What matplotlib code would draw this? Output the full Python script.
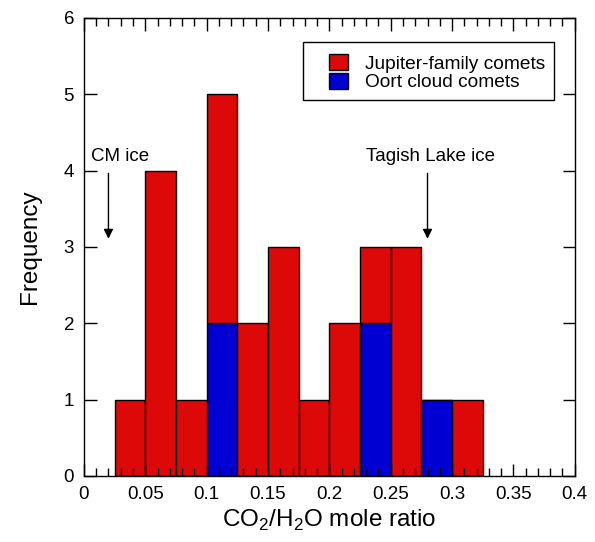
import numpy as np
import matplotlib
matplotlib.use("Agg")
import matplotlib.pyplot as plt
from matplotlib.patches import Rectangle
from matplotlib.ticker import MultipleLocator

plt.rcParams["font.family"] = ["Liberation Sans", "DejaVu Sans"]
plt.rcParams["mathtext.fontset"] = "custom"
plt.rcParams["mathtext.rm"] = "Liberation Sans"

# CO2/H2O bins (left edges, width 0.025) and counts per population
bin_left = [0.025, 0.05, 0.075, 0.1, 0.125, 0.15, 0.175, 0.2, 0.225, 0.25, 0.275, 0.3]
bin_width = 0.025
jfc_counts = [1, 4, 1, 3, 2, 3, 1, 2, 1, 3, 0, 1]
oort_counts = [0, 0, 0, 2, 0, 0, 0, 0, 2, 0, 1, 0]

RED = "#dd0808"
BLUE = "#0000d2"

fig = plt.figure(figsize=(5.95, 5.42), dpi=100)
ax = fig.add_axes([0.141, 0.122, 0.825, 0.845])

ax.bar(bin_left, oort_counts, width=bin_width, align="edge",
       color=BLUE, edgecolor="black", linewidth=1, label="Oort cloud comets")
ax.bar(bin_left, jfc_counts, width=bin_width, align="edge", bottom=oort_counts,
       color=RED, edgecolor="black", linewidth=1, label="Jupiter-family comets")

# ice reference markers
ax.annotate("", xy=(0.02, 3.07), xytext=(0.02, 4.0),
            arrowprops=dict(arrowstyle="-|>", color="black", lw=1, mutation_scale=14))
ax.text(0.0297, 4.18, "CM ice", ha="center", va="center", fontsize=13.5)
ax.annotate("", xy=(0.28, 3.07), xytext=(0.28, 4.0),
            arrowprops=dict(arrowstyle="-|>", color="black", lw=1, mutation_scale=14))
ax.text(0.2823, 4.18, "Tagish Lake ice", ha="center", va="center", fontsize=13.5)

ax.set_xlim(0, 0.4)
ax.set_ylim(0, 6)
ax.xaxis.set_minor_locator(MultipleLocator(0.01))
ax.yaxis.set_major_locator(MultipleLocator(1))
ax.set_xticks(np.arange(0, 0.401, 0.05))
ax.set_xticklabels(["0", "0.05", "0.1", "0.15", "0.2", "0.25", "0.3", "0.35", "0.4"])
ax.tick_params(which="both", direction="in", top=True, right=True, labelsize=13.5)
ax.tick_params(which="major", length=9, width=1, pad=7)
ax.tick_params(which="minor", length=6, width=1)
for s in ax.spines.values():
    s.set_linewidth(1)

ax.set_xlabel("CO$_\\mathregular{2}$/H$_\\mathregular{2}$O mole ratio", fontsize=17.5, labelpad=4)
ax.set_ylabel("Frequency", fontsize=17.5, labelpad=16)

# legend frame drawn separately (wide left margin in the original)
ax.add_patch(Rectangle((0.446, 0.821), 0.511, 0.127, transform=ax.transAxes,
                       facecolor="white", edgecolor="black", linewidth=1, zorder=4))
handles, labels = ax.get_legend_handles_labels()
leg = ax.legend(handles[::-1], labels[::-1], loc="upper left",
                bbox_to_anchor=(0.499, 0.921), fontsize=13.8, frameon=False,
                handlelength=1.0, handleheight=0.9, handletextpad=0.9,
                borderpad=0, labelspacing=0, borderaxespad=0)
leg.set_zorder(5)

fig.savefig("out.png", dpi=100)
